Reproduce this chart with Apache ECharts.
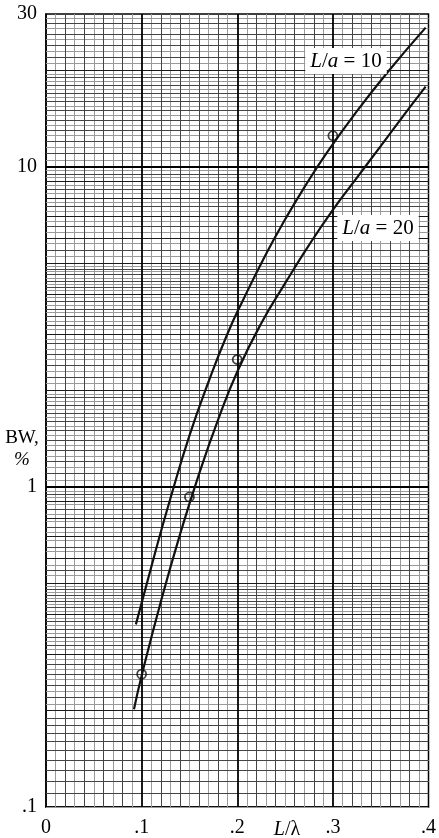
<!DOCTYPE html>
<html>
<head>
<meta charset="utf-8">
<script src="https://cdn.jsdelivr.net/npm/echarts@6/dist/echarts.min.js"></script>
<style>
  html, body { margin: 0; padding: 0; background: #fff; }
  #chart { width: 439px; height: 838px; }
</style>
</head>
<body>
<div id="chart"></div>
<script>
// Bandwidth (percent) against element length L/λ, two slenderness ratios
const xTickValues = [0, 0.1, 0.2, 0.3, 0.4];
const yTickValues = [0.1, 1, 10, 30];

const lenRatio10 = [0.094, 0.115, 0.13, 0.15, 0.17, 0.19, 0.206, 0.23, 0.25, 0.27, 0.295, 0.325, 0.357, 0.397];
const bandwidth10 = [0.372, 0.637, 0.918, 1.445, 2.13, 3.02, 3.83, 5.33, 6.84, 8.61, 11.2, 14.9, 19.7, 27.2];

const lenRatio20 = [0.092, 0.1, 0.12, 0.14, 0.16, 0.18, 0.2, 0.225, 0.25, 0.275, 0.3, 0.325, 0.35, 0.375, 0.397];
const bandwidth20 = [0.202, 0.257, 0.437, 0.708, 1.096, 1.622, 2.29, 3.24, 4.32, 5.69, 7.33, 9.23, 11.6, 14.6, 17.8];

const measuredLen = [0.1, 0.15, 0.2, 0.3];
const measuredBW = [0.26, 0.93, 2.5, 12.5];

const FONT = '"Liberation Serif", "DejaVu Serif", serif';

// Graph-paper rulings: linear in x, semi-log in y
const xRule = { major: [], mid: [], light: [] };
for (let i = 1; i < 40; i++) {
  if (i % 10 === 0) xRule.major.push(i / 100);
  else (i % 2 === 0 ? xRule.mid : xRule.light).push(i / 100);
}
const yRule = { major: [], strong: [], mid: [], light: [] };
[0.1, 1, 10].forEach(decade => {
  if (decade > 0.1) yRule.major.push(decade);
  // mantissa in hundredths: fine steps near 1, coarser towards 10
  for (let m = 105; m < 1000; ) {
    const v = +(m / 100 * decade).toPrecision(6);
    if (v >= 30) break;
    let cls;
    if (m % 100 === 0) cls = 'strong';
    else if (m < 200) cls = (m % 10 === 0) ? 'mid' : 'light';
    else if (m < 500) cls = (m % 20 === 0) ? 'mid' : 'light';
    else cls = (m % 50 === 0) ? 'mid' : 'light';
    yRule[cls].push(v);
    m += (m < 200) ? 5 : (m < 500) ? 10 : 25;
  }
});

function ruleSeries(xs, ys, color, width, z) {
  const data = [];
  xs.forEach(v => data.push({ xAxis: v }));
  ys.forEach(v => data.push({ yAxis: v }));
  return {
    type: 'line', data: [], silent: true, z: z,
    markLine: {
      silent: true, symbol: ['none', 'none'], animation: false,
      label: { show: false },
      emphasis: { disabled: true },
      lineStyle: { color: color, width: width, type: 'solid' },
      data: data
    }
  };
}

const pair = (xs, ys) => xs.map((x, i) => [x, ys[i]]);

const chart = echarts.init(document.getElementById('chart'), null, { renderer: 'canvas' });

chart.setOption({
  animation: false,
  backgroundColor: '#fff',
  grid: {
    left: 46, right: 7.5, top: 14, bottom: 30,
    show: true, borderColor: '#000', borderWidth: 1.5, backgroundColor: 'transparent'
  },
  xAxis: {
    type: 'value', min: 0, max: 0.4, interval: 0.1,
    axisLine: { show: true, lineStyle: { color: '#000', width: 1.5 } },
    axisTick: { show: false },
    splitLine: { show: false },
    axisLabel: {
      margin: 11, color: '#000', fontFamily: FONT, fontSize: 20,
      formatter: v => {
        const s = String(+v.toFixed(2));
        return s.startsWith('0.') ? s.slice(1) : s;
      }
    }
  },
  yAxis: {
    type: 'log', logBase: 10, min: yTickValues[0], max: yTickValues[yTickValues.length - 1],
    axisLine: { show: true, lineStyle: { color: '#000', width: 1.5 } },
    axisTick: { show: false },
    splitLine: { show: false },
    axisLabel: {
      margin: 9, color: '#000', fontFamily: FONT, fontSize: 20,
      formatter: v => {
        const s = String(+(+v).toPrecision(3));
        return s.startsWith('0.') ? s.slice(1) : s;
      }
    }
  },
  series: [
    ruleSeries(xRule.light, yRule.light, '#9a9a9a', 1, 1),
    ruleSeries(xRule.mid, yRule.mid, '#444', 1, 1),
    ruleSeries([], yRule.strong, '#1a1a1a', 1.2, 1),
    ruleSeries(xRule.major, yRule.major, '#000', 1.8, 1),
    {
      name: 'L/a = 10', type: 'line', data: pair(lenRatio10, bandwidth10),
      smooth: 0.5, showSymbol: false, symbol: 'none',
      lineStyle: { color: '#111', width: 2.2 }, z: 5
    },
    {
      name: 'L/a = 20', type: 'line', data: pair(lenRatio20, bandwidth20),
      smooth: 0.5, showSymbol: false, symbol: 'none',
      lineStyle: { color: '#111', width: 2.2 }, z: 5
    },
    {
      name: 'measured', type: 'scatter', data: pair(measuredLen, measuredBW),
      symbol: 'circle', symbolSize: 9,
      itemStyle: { color: 'rgba(255,255,255,0)', borderColor: '#111', borderWidth: 1.8 },
      z: 6
    }
  ],
  graphic: [
    {
      type: 'text', x: 346, y: 61, z: 20,
      style: {
        text: '{i|L}/{i|a} = 10', fontFamily: FONT, fontSize: 21, fill: '#000',
        align: 'center', verticalAlign: 'middle',
        backgroundColor: '#fff', padding: [3, 5, 2, 5],
        rich: { i: { fontStyle: 'italic', fontFamily: FONT, fontSize: 21 } }
      }
    },
    {
      type: 'text', x: 378, y: 228, z: 20,
      style: {
        text: '{i|L}/{i|a} = 20', fontFamily: FONT, fontSize: 21, fill: '#000',
        align: 'center', verticalAlign: 'middle',
        backgroundColor: '#fff', padding: [3, 5, 2, 5],
        rich: { i: { fontStyle: 'italic', fontFamily: FONT, fontSize: 21 } }
      }
    },
    {
      type: 'text', x: 22, y: 449, z: 20,
      style: {
        text: 'BW,\n{i|%}', fontFamily: FONT, fontSize: 19, fill: '#000',
        align: 'center', verticalAlign: 'middle', lineHeight: 21,
        rich: { i: { fontStyle: 'italic', fontFamily: FONT, fontSize: 19 } }
      }
    },
    {
      type: 'text', x: 287, y: 830, z: 20,
      style: {
        text: '{i|L}/λ', fontFamily: FONT, fontSize: 20, fill: '#000',
        align: 'center', verticalAlign: 'middle',
        rich: { i: { fontStyle: 'italic', fontFamily: FONT, fontSize: 20 } }
      }
    }
  ]
});
</script>
</body>
</html>
